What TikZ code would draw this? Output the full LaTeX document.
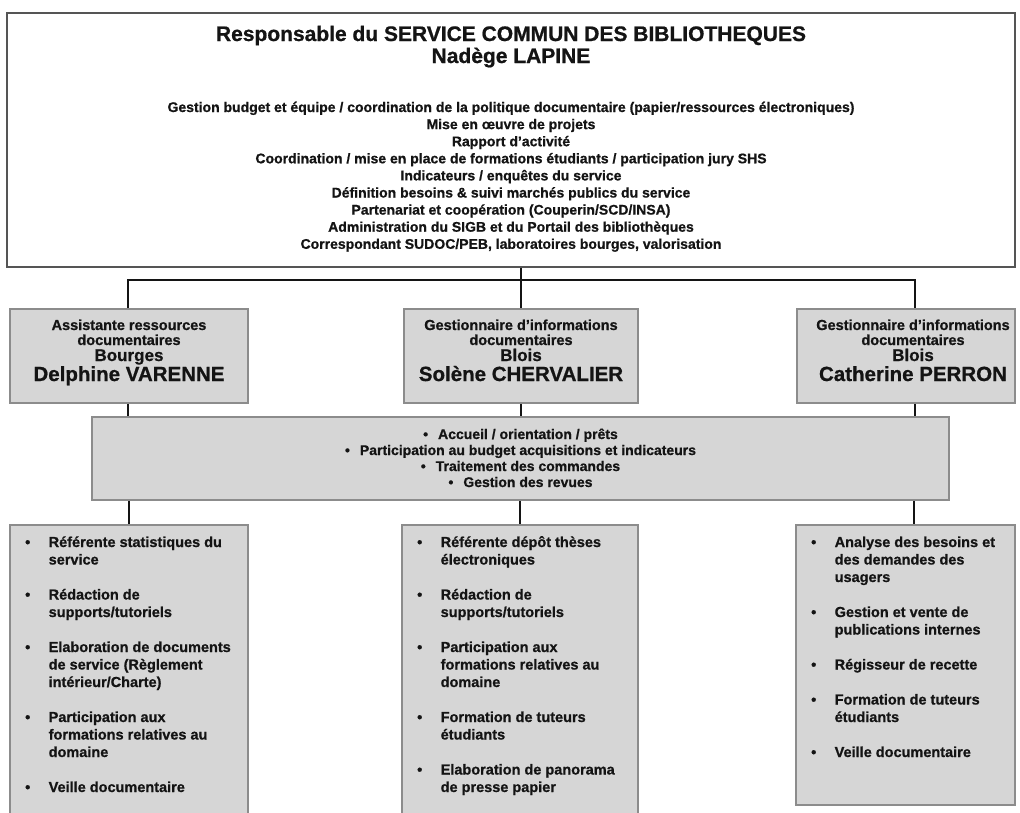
\documentclass[tikz,border=0pt]{standalone}
\usepackage{fontspec}
\setmainfont{Liberation Sans}[BoldFeatures={FakeBold=0.8}]
\usetikzlibrary{calc}
\definecolor{ink}{RGB}{20,20,20}
\definecolor{boxfill}{RGB}{214,214,214}
\definecolor{boxline}{RGB}{140,140,140}
\definecolor{frame}{RGB}{85,85,85}
\tikzset{
  topframe/.style={draw=frame, line width=1.5pt, fill=white, inner sep=0pt},
  graybox/.style={draw=boxline, line width=1.8pt, fill=boxfill, inner sep=0pt},
  conn/.style={draw=ink, line width=2.4pt},
  thinconn/.style={draw=ink, line width=1.2pt},
  txt/.style={inner sep=0pt, text=ink, anchor=base, font=\bfseries\fontsize{14}{17}\selectfont},
  smalltxt/.style={txt, font=\bfseries\fontsize{14.5}{17}\selectfont},
  titletxt/.style={txt, font=\bfseries\fontsize{21}{24}\selectfont},
  towntxt/.style={txt, font=\bfseries\fontsize{17}{19}\selectfont},
  persontxt/.style={txt, font=\bfseries\fontsize{20.5}{22}\selectfont},
  listtxt/.style={inner sep=0pt, text=ink, anchor=base west, font=\bfseries\fontsize{14.5}{17.5}\selectfont},
}
\newcommand{\bul}{\makebox[23.5pt][l]{•}}
\begin{document}
\begin{tikzpicture}[x=1pt,y=-1pt]
\clip (0,0) rectangle (1020,812);
\fill[white] (0,0) rectangle (1020,812);

% top box
\node[topframe, minimum width=1008pt, minimum height=254pt] (top) at (511,140) {};
\node[titletxt] (t1) at (511,41) {Responsable du SERVICE COMMUN DES BIBLIOTHEQUES};
\node[titletxt] (t2) at (511,63) {Nadège LAPINE};
\foreach \s [count=\i] in {
  {Gestion budget et équipe / coordination de la politique documentaire (papier/ressources électroniques)},
  {Mise en œuvre de projets},
  {Rapport d’activité},
  {Coordination / mise en place de formations étudiants / participation jury SHS},
  {Indicateurs / enquêtes du service},
  {Définition besoins \& suivi marchés publics du service},
  {Partenariat et coopération (Couperin/SCD/INSA)},
  {Administration du SIGB et du Portail des bibliothèques},
  {Correspondant SUDOC/PEB, laboratoires bourges, valorisation}}
  \node[txt] (r\i) at (511,{112+17.1*(\i-1)}) {\s};

% middle boxes
\node[graybox, minimum width=238pt, minimum height=94pt] (m1) at (129,356) {};
\node[graybox, minimum width=234pt, minimum height=94pt] (m2) at (521,356) {};
\node[graybox, minimum width=218pt, minimum height=94pt] (m3) at (906,356) {};

\node[smalltxt] (m1a) at (129,330) {Assistante ressources};
\node[smalltxt] (m1b) at (129,345) {documentaires};
\node[towntxt] (m1c) at (129,361) {Bourges};
\node[persontxt] (m1d) at (129,381) {Delphine VARENNE};

\node[smalltxt] (m2a) at (521,330) {Gestionnaire d’informations};
\node[smalltxt] (m2b) at (521,345) {documentaires};
\node[towntxt] (m2c) at (521,361) {Blois};
\node[persontxt] (m2d) at (521,381) {Solène CHERVALIER};

\node[smalltxt] (m3a) at (913,330) {Gestionnaire d’informations};
\node[smalltxt] (m3b) at (913,345) {documentaires};
\node[towntxt] (m3c) at (913,361) {Blois};
\node[persontxt] (m3d) at (913,381) {Catherine PERRON};

% shared box
\node[graybox, minimum width=857pt, minimum height=83pt] (shared) at (520.5,458.5) {};
\foreach \s [count=\i] in {
  {Accueil / orientation / prêts},
  {Participation au budget acquisitions et indicateurs},
  {Traitement des commandes},
  {Gestion des revues}}
  \node[txt] (s\i) at (520.5,{439+16*(\i-1)}) {•\hspace{10pt}\s};

% bottom boxes
\node[graybox, minimum width=238pt, minimum height=310pt] (b1) at (129,680) {};
\node[graybox, minimum width=236pt, minimum height=310pt] (b2) at (520,680) {};
\node[graybox, minimum width=219pt, minimum height=280pt] (b3) at (905.5,665) {};

\node[listtxt] (b1t) at (25,547) {\begin{tabular}[t]{@{}l@{}l@{}}
\bul & Référente statistiques du\\ & service\\[17.5pt]
\bul & Rédaction de\\ & supports/tutoriels\\[17.5pt]
\bul & Elaboration de documents\\ & de service (Règlement\\ & intérieur/Charte)\\[17.5pt]
\bul & Participation aux\\ & formations relatives au\\ & domaine\\[17.5pt]
\bul & Veille documentaire
\end{tabular}};

\node[listtxt] (b2t) at (417,547) {\begin{tabular}[t]{@{}l@{}l@{}}
\bul & Référente dépôt thèses\\ & électroniques\\[17.5pt]
\bul & Rédaction de\\ & supports/tutoriels\\[17.5pt]
\bul & Participation aux\\ & formations relatives au\\ & domaine\\[17.5pt]
\bul & Formation de tuteurs\\ & étudiants\\[17.5pt]
\bul & Elaboration de panorama\\ & de presse papier
\end{tabular}};

\node[listtxt] (b3t) at (811,547) {\begin{tabular}[t]{@{}l@{}l@{}}
\bul & Analyse des besoins et\\ & des demandes des\\ & usagers\\[17.5pt]
\bul & Gestion et vente de\\ & publications internes\\[17.5pt]
\bul & Régisseur de recette\\[17.5pt]
\bul & Formation de tuteurs\\ & étudiants\\[17.5pt]
\bul & Veille documentaire
\end{tabular}};

% connectors
\coordinate (bus) at (521,280);
\draw[conn] (top.south -| m2.north) -- (m2.north);
\draw[conn] ([xshift=-1pt]m1.north) |- (bus) -| ([xshift=9pt]m3.north);

\draw[thinconn] ([xshift=-1pt]m1.south) -- ([xshift=-1pt]m1.south |- shared.north);
\draw[thinconn] (m2.south) -- (m2.south |- shared.north);
\draw[conn] ([xshift=9pt]m3.south) -- ([xshift=9pt]m3.south |- shared.north);

\draw[conn] (shared.south -| b1.north) -- (b1.north);
\draw[conn] (shared.south -| b2.north) -- (b2.north);
\draw[conn] ([xshift=8.5pt]b3.north |- shared.south) -- ([xshift=8.5pt]b3.north);
\end{tikzpicture}
\end{document}
